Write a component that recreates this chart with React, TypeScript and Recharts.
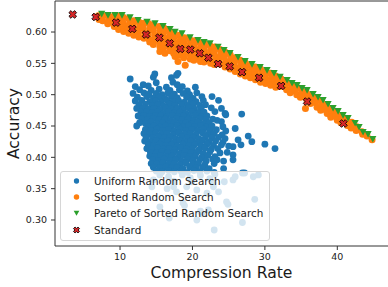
import { ScatterChart, Scatter, XAxis, YAxis, ReferenceLine, Legend } from "recharts";

// axis ranges (matplotlib auto-margins)
const xDomain: [number, number] = [1.02, 47.0];
const yDomain: [number, number] = [0.2585, 0.6495];
const xTicks = [10, 20, 30, 40];
const yTicks = [0.3, 0.35, 0.4, 0.45, 0.5, 0.55, 0.6];

const FONT = '"DejaVu Sans", sans-serif';
const BLUE = "#1f77b4";
const ORANGE = "#ff7f0e";
const GREEN = "#2ca02c";
const RED = "#d62728";

// Uniform Random Search: [compression rate, accuracy]
const uniformSearch: [number, number][] = [
  [11.4, 0.525], [14.6, 0.528], [14.8, 0.533], [17.1, 0.527], [17.8, 0.531], [18.0, 0.534], [15.0, 0.519], [17.3, 0.52],
  [12.1, 0.513], [13.2, 0.516], [13.9, 0.514], [16.4, 0.512], [17.9, 0.516], [18.6, 0.513], [20.4, 0.512],
  [12.7, 0.508], [14.3, 0.507], [15.4, 0.509], [16.9, 0.507], [18.2, 0.508], [19.3, 0.506],
  [11.8, 0.502], [13.3, 0.503], [14.0, 0.501], [15.0, 0.502], [15.8, 0.5], [16.6, 0.503], [17.5, 0.501], [18.7, 0.502], [19.6, 0.5], [20.6, 0.503],
  [12.4, 0.496], [13.7, 0.497], [14.6, 0.495], [15.4, 0.496], [16.2, 0.494], [17.1, 0.497], [17.9, 0.495], [19.2, 0.496], [20.1, 0.494], [21.3, 0.497], [22.7, 0.497],
  [12.1, 0.49], [13.0, 0.491], [14.1, 0.489], [14.9, 0.49], [15.7, 0.488], [16.5, 0.491], [17.3, 0.489], [18.1, 0.49], [18.9, 0.488], [19.8, 0.49], [20.5, 0.489], [21.5, 0.491], [23.6, 0.491],
  [12.6, 0.484], [13.5, 0.485], [14.4, 0.483], [15.2, 0.484], [16.0, 0.482], [16.8, 0.485], [17.6, 0.483], [18.5, 0.484], [19.3, 0.482], [20.1, 0.485], [21.0, 0.483], [21.8, 0.484],
  [12.3, 0.478], [13.2, 0.479], [13.9, 0.477], [14.7, 0.478], [15.5, 0.476], [16.3, 0.479], [17.1, 0.477], [17.9, 0.478], [18.7, 0.476], [19.5, 0.479], [20.3, 0.477], [21.2, 0.478], [22.6, 0.479], [24.0, 0.478],
  [12.9, 0.472], [13.7, 0.473], [14.4, 0.471], [15.2, 0.472], [16.0, 0.47], [16.7, 0.473], [17.5, 0.471], [18.3, 0.472], [19.1, 0.47], [19.9, 0.473], [20.8, 0.471], [21.6, 0.472], [23.1, 0.473], [24.5, 0.47],
  [12.5, 0.466], [13.3, 0.467], [14.1, 0.465], [14.9, 0.467], [15.6, 0.466], [16.4, 0.464], [17.2, 0.467], [18.0, 0.465], [18.8, 0.466], [19.6, 0.464], [20.4, 0.467], [21.3, 0.465], [22.0, 0.466], [24.6, 0.468], [26.8, 0.469],
  [13.0, 0.461], [13.8, 0.46], [14.6, 0.462], [15.4, 0.46], [16.2, 0.461], [17.0, 0.459], [17.8, 0.462], [18.6, 0.46], [19.4, 0.461], [20.2, 0.459], [21.0, 0.462], [21.9, 0.46], [22.8, 0.461], [23.4, 0.459],
  [12.7, 0.455], [13.5, 0.454], [14.3, 0.456], [15.1, 0.454], [15.9, 0.455], [16.7, 0.453], [17.5, 0.456], [18.3, 0.454], [19.1, 0.455], [19.9, 0.453], [20.7, 0.456], [21.5, 0.454], [22.3, 0.455], [24.0, 0.457],
  [12.3, 0.45], [13.9, 0.449], [14.7, 0.45], [15.5, 0.448], [16.3, 0.45], [17.1, 0.449], [17.9, 0.451], [18.7, 0.448], [19.5, 0.45], [20.3, 0.449], [21.1, 0.451], [21.9, 0.448], [22.7, 0.45], [24.2, 0.449],
  [13.5, 0.444], [14.3, 0.443], [15.1, 0.445], [15.9, 0.443], [16.7, 0.444], [17.5, 0.442], [18.3, 0.445], [19.1, 0.443], [19.9, 0.444], [20.7, 0.442], [21.5, 0.445], [22.4, 0.443], [23.3, 0.444], [24.6, 0.442], [25.9, 0.446],
  [13.3, 0.438], [14.1, 0.437], [14.9, 0.439], [15.7, 0.437], [16.5, 0.438], [17.3, 0.436], [18.1, 0.439], [18.9, 0.437], [19.7, 0.438], [20.5, 0.436], [21.4, 0.439], [22.2, 0.437], [23.0, 0.438], [24.1, 0.436],
  [13.6, 0.432], [14.5, 0.431], [15.3, 0.433], [16.1, 0.431], [16.9, 0.432], [17.7, 0.43], [18.5, 0.433], [19.3, 0.431], [20.1, 0.432], [20.9, 0.43], [21.8, 0.433], [22.7, 0.431], [23.6, 0.432], [24.5, 0.43], [27.7, 0.434],
  [13.4, 0.426], [14.2, 0.425], [15.0, 0.427], [15.8, 0.425], [16.6, 0.426], [17.4, 0.424], [18.2, 0.427], [19.0, 0.425], [19.8, 0.426], [20.6, 0.424], [21.4, 0.427], [22.3, 0.425], [23.2, 0.426], [24.2, 0.424], [26.3, 0.428], [28.2, 0.425],
  [13.9, 0.42], [14.7, 0.419], [15.5, 0.421], [16.3, 0.419], [17.1, 0.42], [17.9, 0.418], [18.7, 0.421], [19.5, 0.419], [20.3, 0.42], [21.2, 0.418], [22.0, 0.421], [22.9, 0.419], [24.0, 0.42], [25.0, 0.418], [26.7, 0.42], [30.0, 0.421],
  [13.7, 0.414], [14.4, 0.413], [15.2, 0.415], [16.0, 0.413], [16.8, 0.414], [17.6, 0.412], [18.4, 0.415], [19.2, 0.413], [20.0, 0.414], [20.9, 0.412], [21.7, 0.415], [22.6, 0.413], [23.5, 0.414], [25.6, 0.417], [31.4, 0.414],
  [14.2, 0.408], [15.0, 0.407], [15.8, 0.409], [16.6, 0.407], [17.4, 0.408], [18.2, 0.406], [19.0, 0.409], [19.8, 0.407], [20.6, 0.408], [21.5, 0.406], [22.4, 0.409], [23.8, 0.407], [24.8, 0.408],
  [14.1, 0.402], [14.8, 0.401], [15.6, 0.403], [16.4, 0.401], [17.2, 0.402], [18.0, 0.4], [18.8, 0.403], [19.6, 0.401], [20.4, 0.402], [21.3, 0.4], [22.1, 0.403], [23.1, 0.401], [25.6, 0.404],
  [14.5, 0.396], [15.3, 0.395], [16.1, 0.397], [16.9, 0.395], [17.7, 0.396], [18.5, 0.394], [19.3, 0.397], [20.1, 0.395], [21.0, 0.396], [21.9, 0.394], [22.8, 0.397], [23.4, 0.396], [24.3, 0.394], [25.6, 0.396],
  [14.3, 0.39], [15.1, 0.389], [15.9, 0.391], [16.7, 0.389], [17.5, 0.39], [18.3, 0.388], [19.1, 0.391], [20.0, 0.389], [20.8, 0.39], [21.7, 0.388], [23.0, 0.39],
  [14.6, 0.384], [15.5, 0.383], [16.3, 0.385], [17.1, 0.383], [17.9, 0.384], [18.7, 0.382], [19.6, 0.385], [20.5, 0.383], [21.4, 0.384], [22.3, 0.382], [24.3, 0.382],
  [15.0, 0.378], [15.8, 0.377], [16.7, 0.379], [17.5, 0.377], [18.4, 0.378], [19.3, 0.376], [20.2, 0.379], [21.0, 0.377], [22.0, 0.378], [23.0, 0.376],
  [15.5, 0.372], [16.7, 0.369], [18.6, 0.372], [21.1, 0.371], [23.1, 0.373], [27.2, 0.375], [25.6, 0.364], [29.1, 0.372], [28.4, 0.369], [25.9, 0.369], [24.4, 0.361], [26.9, 0.375],
  [14.6, 0.364], [17.4, 0.362], [19.9, 0.361], [22.4, 0.366], [22.9, 0.359], [19.7, 0.367],
  [16.5, 0.35], [17.8, 0.345], [19.2, 0.353], [20.6, 0.348], [22.0, 0.343], [22.9, 0.353], [23.6, 0.345], [14.4, 0.353], [17.4, 0.353],
  [28.6, 0.333], [24.7, 0.329], [24.9, 0.325], [18.7, 0.327], [18.9, 0.323], [15.5, 0.321], [22.2, 0.316], [21.3, 0.31], [21.1, 0.314],
  [16.8, 0.303], [20.6, 0.3], [26.9, 0.296], [23.0, 0.284],
];

// Sorted Random Search
const sortedSearch: [number, number][] = [
  [7.0, 0.626], [7.1, 0.62], [7.7, 0.626], [7.6, 0.618],
  [8.4, 0.625], [8.5, 0.618], [8.3, 0.613],
  [9.1, 0.625], [9.0, 0.617], [9.2, 0.609],
  [9.8, 0.625], [9.9, 0.617], [9.7, 0.61], [9.8, 0.604],
  [10.5, 0.623], [10.4, 0.615], [10.6, 0.608], [10.5, 0.601],
  [11.2, 0.621], [11.3, 0.613], [11.1, 0.606], [11.2, 0.598],
  [11.9, 0.618], [11.8, 0.611], [12.0, 0.603], [11.9, 0.595],
  [12.6, 0.616], [12.7, 0.608], [12.5, 0.6], [12.6, 0.592],
  [13.3, 0.614], [13.2, 0.606], [13.4, 0.598], [13.3, 0.59],
  [14.0, 0.613], [14.1, 0.605], [13.9, 0.597], [14.0, 0.589], [14.1, 0.584],
  [14.7, 0.611], [14.6, 0.603], [14.8, 0.595], [14.7, 0.587], [14.6, 0.58],
  [15.4, 0.609], [15.5, 0.601], [15.3, 0.593], [15.4, 0.585], [15.5, 0.577], [15.5, 0.569],
  [16.1, 0.606], [16.0, 0.598], [16.2, 0.59], [16.1, 0.582], [16.0, 0.574], [16.2, 0.566],
  [16.8, 0.602], [16.9, 0.594], [16.7, 0.586], [16.8, 0.578], [16.9, 0.57],
  [17.5, 0.598], [17.4, 0.59], [17.6, 0.582], [17.5, 0.574], [17.4, 0.566], [17.6, 0.561],
  [18.2, 0.595], [18.3, 0.587], [18.1, 0.579], [18.2, 0.571], [18.3, 0.563], [18.0, 0.553],
  [18.9, 0.591], [18.8, 0.583], [19.0, 0.575], [18.9, 0.567], [18.8, 0.559], [19.0, 0.547],
  [19.6, 0.589], [19.7, 0.581], [19.5, 0.573], [19.6, 0.565], [19.7, 0.557],
  [20.3, 0.586], [20.2, 0.578], [20.4, 0.57], [20.3, 0.562], [20.2, 0.555],
  [21.0, 0.583], [21.1, 0.575], [20.9, 0.567], [21.0, 0.559], [21.1, 0.553],
  [21.7, 0.581], [21.6, 0.573], [21.8, 0.565], [21.7, 0.557], [21.6, 0.552],
  [22.4, 0.579], [22.5, 0.571], [22.3, 0.563], [22.4, 0.555], [22.5, 0.55],
  [23.1, 0.576], [23.0, 0.568], [23.2, 0.56], [23.1, 0.553], [23.0, 0.548],
  [23.8, 0.572], [23.9, 0.564], [23.7, 0.557], [23.8, 0.549],
  [24.5, 0.568], [24.4, 0.56], [24.6, 0.553], [24.5, 0.544],
  [25.2, 0.564], [25.3, 0.556], [25.1, 0.548], [25.2, 0.541],
  [25.9, 0.559], [25.8, 0.551], [26.0, 0.543], [25.9, 0.537],
  [26.6, 0.555], [26.7, 0.547], [26.5, 0.54], [26.6, 0.533],
  [27.3, 0.551], [27.2, 0.543], [27.4, 0.536], [27.3, 0.53],
  [28.0, 0.547], [28.1, 0.539], [27.9, 0.532], [28.0, 0.527],
  [28.7, 0.544], [28.6, 0.536], [28.8, 0.529], [28.7, 0.524],
  [29.4, 0.541], [29.5, 0.533], [29.3, 0.526], [29.4, 0.52],
  [30.1, 0.537], [30.0, 0.53], [30.2, 0.523], [30.1, 0.518],
  [30.8, 0.534], [30.9, 0.527], [30.7, 0.52], [30.8, 0.515],
  [31.5, 0.53], [31.4, 0.523], [31.6, 0.517], [31.5, 0.512],
  [32.2, 0.526], [32.3, 0.519], [32.1, 0.513],
  [32.9, 0.521], [32.8, 0.514], [33.0, 0.508],
  [33.6, 0.517], [33.7, 0.51], [33.5, 0.503],
  [34.3, 0.513], [34.2, 0.506], [34.4, 0.5],
  [35.0, 0.509], [35.1, 0.502], [34.9, 0.496],
  [35.7, 0.504], [35.6, 0.497], [35.8, 0.492], [35.6, 0.478],
  [36.4, 0.5], [36.5, 0.493], [36.3, 0.486],
  [37.1, 0.495], [37.0, 0.487], [37.2, 0.48],
  [37.8, 0.49], [37.9, 0.482], [37.7, 0.475],
  [38.5, 0.484], [38.4, 0.476], [38.6, 0.47],
  [39.2, 0.478], [39.3, 0.471], [39.1, 0.464],
  [39.9, 0.472], [39.8, 0.465], [40.0, 0.459],
  [40.6, 0.466], [40.7, 0.46], [40.5, 0.455],
  [41.3, 0.461], [41.2, 0.455], [41.4, 0.451],
  [42.0, 0.456], [42.1, 0.45], [41.9, 0.447],
  [42.7, 0.449], [42.6, 0.443],
  [43.4, 0.441], [43.5, 0.437],
  [44.1, 0.434], [44.8, 0.428],
];

// Pareto front of the sorted search
const paretoFront: [number, number][] = [
  [7.47, 0.629], [8.34, 0.627], [9.31, 0.627], [10.28, 0.627], [11.38, 0.6235], [12.49, 0.619],
  [13.73, 0.6164], [14.83, 0.6139], [15.94, 0.6096], [16.91, 0.6048], [17.6, 0.6005], [18.56, 0.5979],
  [19.67, 0.5915], [20.77, 0.5872], [21.6, 0.584], [22.43, 0.582], [23.54, 0.5765], [24.36, 0.5713],
  [25.19, 0.5665], [26.3, 0.5601], [27.27, 0.5537], [28.23, 0.5489], [29.34, 0.5441], [30.3, 0.5393],
  [31.27, 0.5346], [32.1, 0.5287], [33.07, 0.5234], [33.76, 0.5186], [34.45, 0.5154], [35.14, 0.5106],
  [35.83, 0.5074], [36.66, 0.5011], [37.35, 0.4963], [38.04, 0.4915], [38.73, 0.4851], [39.42, 0.4787],
  [40.11, 0.4739], [40.8, 0.4675], [41.49, 0.4628], [42.46, 0.4548], [43.01, 0.4484], [43.56, 0.4404],
  [44.25, 0.4372], [44.9, 0.4293],
];

// Standard configurations
const standard: [number, number][] = [
  [3.47, 0.628], [6.64, 0.624], [9.45, 0.615], [11.7, 0.605], [13.59, 0.596], [15.43, 0.591],
  [16.86, 0.582], [18.33, 0.573], [19.71, 0.572], [21.01, 0.566], [22.2, 0.559], [23.54, 0.549],
  [25.15, 0.545], [26.85, 0.536], [29.2, 0.527], [32.24, 0.514], [35.83, 0.489], [40.84, 0.454],
];

const seriesNames = [
  "Uniform Random Search",
  "Sorted Random Search",
  "Pareto of Sorted Random Search",
  "Standard",
];

const toPoints = (arr: [number, number][]) => arr.map(([x, y]) => ({ x, y }));

// marker drawing helpers
const xPath = (a: number, h: number) =>
  `M${-h},${-a}L${h},${-a}L${h},${-h}L${a},${-h}L${a},${h}L${h},${h}L${h},${a}L${-h},${a}L${-h},${h}L${-a},${h}L${-a},${-h}L${-h},${-h}Z`;

function Marker({ kind, cx, cy, small }: { kind: number; cx: number; cy: number; small?: boolean }) {
  const k = small ? 0.78 : 1;
  if (kind === 0) return <circle cx={cx} cy={cy} r={3.4 * k} fill={BLUE} />;
  if (kind === 1) return <circle cx={cx} cy={cy} r={3.5 * k} fill={ORANGE} />;
  if (kind === 2) {
    const w = 3.6 * k;
    return (
      <path
        d={`M${cx - w},${cy - 3 * k}L${cx + w},${cy - 3 * k}L${cx},${cy + 3.6 * k}Z`}
        fill={GREEN}
      />
    );
  }
  return (
    <path
      d={xPath(4.0 * k, 1.45 * k)}
      transform={`translate(${cx},${cy}) rotate(45)`}
      fill={RED}
      stroke="#000"
      strokeWidth={0.8}
    />
  );
}

function LegendBox() {
  return (
    <div
      style={{
        width: 208,
        height: 67,
        boxSizing: "content-box",
        paddingTop: 0.5,
        background: "rgba(255,255,255,0.8)",
        border: "1px solid #d6d6d6",
        borderRadius: 3,
        fontFamily: FONT,
        fontSize: 10.4,
        color: "#1a1a1a",
      }}
    >
      {seriesNames.map((name, i) => (
        <div key={name} style={{ display: "flex", alignItems: "center", height: 16.4 }}>
          <svg width={33} height={16} style={{ flex: "none" }}>
            <Marker kind={i} cx={15.5} cy={8} small />
          </svg>
          <span style={{ whiteSpace: "nowrap" }}>{name}</span>
        </div>
      ))}
    </div>
  );
}

const tickStyle = { fill: "#222", fontSize: 9.5, fontFamily: FONT };

export default function App() {
  const series = [uniformSearch, sortedSearch, paretoFront, standard];
  return (
    <div
      style={{
        position: "absolute",
        left: 0,
        top: 0,
        width: 388,
        height: 287,
        overflow: "hidden",
        background: "#fff",
      }}
    >
      <ScatterChart width={388} height={287} margin={{ top: 1, right: 0, bottom: 0, left: 0 }}>
        <XAxis
          type="number"
          dataKey="x"
          domain={xDomain}
          allowDataOverflow
          ticks={xTicks}
          height={41}
          tickSize={4}
          tickMargin={3}
          stroke="#333"
          tick={tickStyle}
          label={{
            value: "Compression Rate",
            position: "insideBottom",
            offset: 9,
            fill: "#1a1a1a",
            fontSize: 15.6,
            fontFamily: FONT,
          }}
        />
        <YAxis
          type="number"
          dataKey="y"
          domain={yDomain}
          allowDataOverflow
          ticks={yTicks}
          width={55}
          tickSize={4}
          tickMargin={4}
          stroke="#333"
          tick={tickStyle}
          tickFormatter={(v: number) => v.toFixed(2)}
          label={{
            content: () => (
              <text
                x={19}
                y={123.5}
                transform="rotate(-90 19 123.5)"
                textAnchor="middle"
                fill="#1a1a1a"
                fontSize={15.6}
                fontFamily={FONT}
              >
                Accuracy
              </text>
            ),
          }}
        />
        <ReferenceLine y={yDomain[1]} stroke="#333" ifOverflow="visible" />
        {series.map((arr, i) => (
          <Scatter
            key={seriesNames[i]}
            name={seriesNames[i]}
            data={toPoints(arr)}
            isAnimationActive={false}
            shape={(p: any) => <Marker kind={i} cx={p.cx} cy={p.cy} />}
          />
        ))}
        <Legend
          layout="vertical"
          align="center"
          verticalAlign="middle"
          wrapperStyle={{ left: 60, top: 171, width: "auto", height: "auto" }}
          content={() => <LegendBox />}
        />
      </ScatterChart>
    </div>
  );
}
